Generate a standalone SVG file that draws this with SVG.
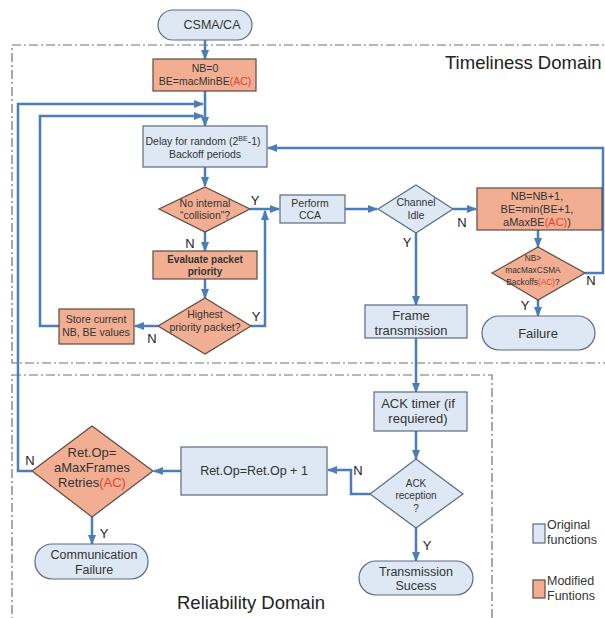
<svg xmlns="http://www.w3.org/2000/svg" width="605" height="618" viewBox="0 0 605 618">
<defs>
<marker id="ah" markerWidth="10" markerHeight="8" refX="9" refY="4" orient="auto" markerUnits="userSpaceOnUse">
<path d="M0,0 L10,4 L0,8 z" fill="#4A7EBB"/>
</marker>
<style>
.dom{fill:none;stroke:#707070;stroke-width:1.2;stroke-dasharray:9 3 2 3}
.con{fill:none;stroke:#4A7EBB;stroke-width:2.5}
.arr{marker-end:url(#ah)}
.orig{fill:#DDE8F4;stroke:#5A6B80;stroke-width:1.2}
.mod{fill:#F2AE92;stroke:#5E4A40;stroke-width:1.2}
text{font-family:"Liberation Sans",Arial,sans-serif;fill:#333;text-anchor:middle}
.t8{font-size:8.3px}
.t10{font-size:10px}
.t105{font-size:10.5px}
.t11{font-size:11px}
.t12{font-size:12.5px}
.t13{font-size:13px}
.lbl{font-size:13px;fill:#222}
.red{fill:#E8402F}
.dt{font-size:18.5px;fill:#222;text-anchor:start}
.lg{font-size:12.5px;text-anchor:start}
</style>
</defs>
<rect width="605" height="618" fill="#fff"/>
<g id="domains">
<rect class="dom" x="12" y="45" width="600" height="318"/>
<rect class="dom" x="12" y="375" width="480" height="260"/>
<text class="dt" x="445" y="69">Timeliness Domain</text>
<text class="dt" x="177" y="609">Reliability Domain</text>
</g>
<g id="connectors">
<path class="con arr" d="M205,40 V59"/>
<path class="con arr" d="M205,91 V126"/>
<path class="con arr" d="M32,471 H18 V104 H203"/>
<path class="con arr" d="M59,326 H40 V116 H203"/>
<path class="con arr" d="M585,273 H603 V148 H268"/>
<path class="con arr" d="M205,167 V186"/>
<path class="con arr" d="M250,209 H279"/>
<path class="con arr" d="M205,232 V251"/>
<path class="con arr" d="M205,279 V298"/>
<path class="con arr" d="M251,326 H265 V211"/>
<path class="con arr" d="M158,326 H135"/>
<path class="con arr" d="M345,209 H377"/>
<path class="con arr" d="M453,209 H476"/>
<path class="con arr" d="M538,230 V247"/>
<path class="con arr" d="M538,300 V316"/>
<path class="con arr" d="M416,233 V305"/>
<path class="con arr" d="M416,338 V392"/>
<path class="con arr" d="M416,431 V459"/>
<path class="con arr" d="M370,494 H351 V470 H328"/>
<path class="con arr" d="M181,471 H154"/>
<path class="con arr" d="M92,517 V544"/>
<path class="con arr" d="M416,527 V561"/>
<text class="lbl" x="255" y="205">Y</text>
<text class="lbl" x="190" y="248">N</text>
<text class="lbl" x="256" y="321">Y</text>
<text class="lbl" x="152" y="343">N</text>
<text class="lbl" x="462" y="227">N</text>
<text class="lbl" x="407" y="247">Y</text>
<text class="lbl" x="591" y="285">N</text>
<text class="lbl" x="525" y="310">Y</text>
<text class="lbl" x="358" y="475">N</text>
<text class="lbl" x="30" y="465">N</text>
<text class="lbl" x="104" y="538">Y</text>
<text class="lbl" x="427" y="550">Y</text>
</g>
<g id="csma">
<rect class="orig" x="158" y="10" width="94" height="30" rx="15"/>
<text class="t12" x="212" y="29">CSMA/CA</text>
</g>
<g id="init">
<rect class="mod" x="153" y="59" width="103" height="32"/>
<text class="t105" x="205" y="72">NB=0</text>
<text class="t105" x="205" y="85">BE=macMinBE<tspan class="red">(AC)</tspan></text>
</g>
<g id="delay">
<rect class="orig" x="143" y="126" width="124" height="41"/>
<text class="t105" x="203" y="145">Delay for random (2<tspan font-size="7" dy="-4">BE</tspan><tspan dy="4">-1)</tspan></text>
<text class="t105" x="205" y="158">Backoff periods</text>
</g>
<g id="collision">
<path class="mod" d="M205,187 L250,209 L205,232 L159,209 Z"/>
<text class="t105" x="205" y="207">No internal</text>
<text class="t105" x="205" y="219">“collision”?</text>
</g>
<g id="evaluate">
<rect class="mod" x="153" y="251" width="104" height="28"/>
<text class="t10" x="205" y="263" font-weight="bold">Evaluate packet</text>
<text class="t10" x="205" y="275" font-weight="bold">priority</text>
</g>
<g id="highest">
<path class="mod" d="M205,298 L251,326 L205,354 L158,326 Z"/>
<text class="t105" x="205" y="318">Highest</text>
<text class="t105" x="205" y="331">priority packet?</text>
</g>
<g id="store">
<rect class="mod" x="59" y="309" width="75" height="35"/>
<text class="t105" x="96" y="323">Store current</text>
<text class="t105" x="96" y="336">NB, BE values</text>
</g>
<g id="cca">
<rect class="orig" x="280" y="195" width="65" height="28"/>
<text class="t105" x="310" y="207">Perform</text>
<text class="t105" x="310" y="219">CCA</text>
</g>
<g id="idle">
<path class="orig" d="M416,185 L453,209 L416,233 L378,209 Z"/>
<text class="t105" x="416" y="206">Channel</text>
<text class="t105" x="416" y="219">Idle</text>
</g>
<g id="update">
<rect class="mod" x="477" y="188" width="125" height="42"/>
<text class="t11" x="537" y="200">NB=NB+1,</text>
<text class="t11" x="537" y="213">BE=min(BE+1,</text>
<text class="t11" x="537" y="226">aMaxBE<tspan class="red">(AC)</tspan>)</text>
</g>
<g id="maxcsma">
<path class="mod" d="M538,247 L585,273 L538,300 L492,273 Z"/>
<text class="t8" x="533" y="261">NB&gt;</text>
<text class="t8" x="533" y="273">macMaxCSMA</text>
<text class="t8" x="533" y="285">Backoffs<tspan class="red">(AC)</tspan>?</text>
</g>
<g id="failure">
<rect class="orig" x="482" y="316" width="113" height="34" rx="17"/>
<text class="t13" x="538" y="338">Failure</text>
</g>
<g id="frame">
<rect class="orig" x="365" y="305" width="102" height="33"/>
<text class="t13" x="411" y="320">Frame</text>
<text class="t13" x="411" y="335">transmission</text>
</g>
<g id="acktimer">
<rect class="orig" x="374" y="392" width="93" height="39"/>
<text class="t13" x="418" y="408">ACK timer (if</text>
<text class="t13" x="418" y="423">requiered)</text>
</g>
<g id="ackrx">
<path class="orig" d="M416,459 L463,494 L416,528 L370,494 Z"/>
<text class="t10" x="416" y="487">ACK</text>
<text class="t10" x="416" y="499">reception</text>
<text class="t10" x="416" y="512">?</text>
</g>
<g id="retinc">
<rect class="orig" x="181" y="447" width="146" height="48"/>
<text class="t12" x="254" y="475">Ret.Op=Ret.Op + 1</text>
</g>
<g id="retmax">
<path class="mod" d="M92,426 L153,471 L92,517 L32,471 Z"/>
<text class="t13" x="92" y="457">Ret.Op=</text>
<text class="t13" x="92" y="472">aMaxFrames</text>
<text class="t13" x="92" y="487">Retries<tspan class="red">(AC)</tspan></text>
</g>
<g id="commfail">
<rect class="orig" x="35" y="544" width="113" height="35" rx="17"/>
<text class="t12" x="94" y="559">Communication</text>
<text class="t12" x="94" y="574">Failure</text>
</g>
<g id="success">
<rect class="orig" x="359" y="561" width="114" height="34" rx="17"/>
<text class="t12" x="416" y="576">Transmission</text>
<text class="t12" x="416" y="590">Sucess</text>
</g>
<g id="legend">
<rect class="orig" x="533" y="524" width="12" height="19"/>
<text class="lg" x="547" y="529">Original</text>
<text class="lg" x="547" y="544">functions</text>
<rect class="mod" x="533" y="580" width="12" height="18"/>
<text class="lg" x="547" y="585">Modified</text>
<text class="lg" x="547" y="600">Funtions</text>
</g>
</svg>
